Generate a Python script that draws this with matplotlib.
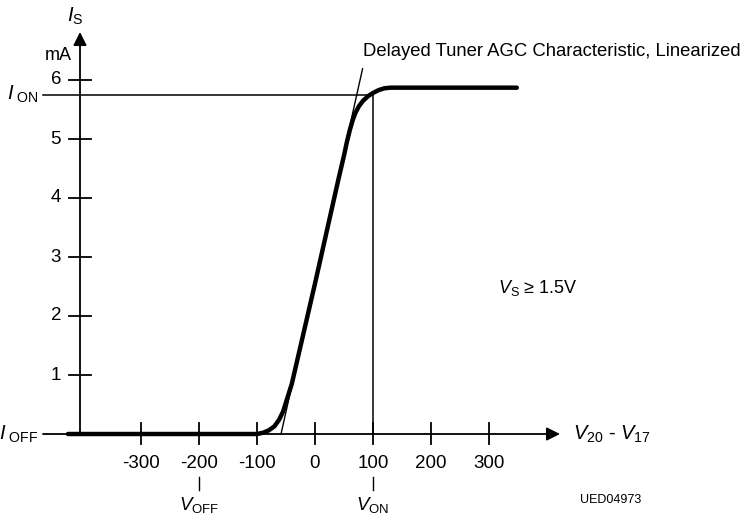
import matplotlib
matplotlib.use("Agg")
import matplotlib.pyplot as plt

FONT = ['Liberation Sans', 'DejaVu Sans']
plt.rcParams['font.family'] = FONT
plt.rcParams['mathtext.fontset'] = 'custom'
plt.rcParams['mathtext.rm'] = 'Liberation Sans'
plt.rcParams['mathtext.it'] = 'Liberation Sans:italic'

# ---- data ----
curve_v = [-426, -300, -200, -100, -90, -80, -70, -62, -55, -48, -40, 0, 40, 50,
           55, 60, 65, 70, 76, 83, 92, 100, 110, 120, 130, 348]
curve_i = [0, 0, 0, 0, 0.02, 0.06, 0.13, 0.24, 0.38, 0.6, 0.85, 2.55, 4.3, 4.72,
           4.95, 5.15, 5.32, 5.45, 5.56, 5.65, 5.73, 5.78, 5.83, 5.86, 5.87, 5.87]
lin_v = [-58.6, 82]
lin_i = [0, 6.19]
x_ticks = [-300, -200, -100, 0, 100, 200, 300]
x_tick_labels = ['-300', '-200', '-100', '0', '100', '200', '300']
y_ticks = [1, 2, 3, 4, 5, 6]
y_tick_labels = ['1', '2', '3', '4', '5', '6']
I_ON = 5.75
V_ON = 100
V_OFF = -200

# pixel mapping helpers: x_px = 315 + 0.58*x ; y_px = 434 - 59*y
def px2x(p):
    return (p - 315) / 0.58

def px2y(p):
    return (434 - p) / 59.0

fig = plt.figure(figsize=(7.45, 5.17), dpi=100)
ax = fig.add_axes([0, 0, 1, 1])
ax.set_xlim(px2x(0), px2x(745))
ax.set_ylim(px2y(517), px2y(0))
ax.axis('off')

lw_ax = 1.3
fs = 13.5

x_left = px2x(43)
y_axis_x = px2x(80)

# x axis with arrow
ax.annotate('', xy=(px2x(560), 0), xytext=(x_left, 0),
            arrowprops=dict(arrowstyle='-|>', lw=lw_ax, color='black',
                            mutation_scale=20, shrinkA=0, shrinkB=0))
# y axis with arrow
ax.annotate('', xy=(y_axis_x, px2y(32)), xytext=(y_axis_x, 0),
            arrowprops=dict(arrowstyle='-|>', lw=lw_ax, color='black',
                            mutation_scale=20, shrinkA=0, shrinkB=0))

# ticks
for xt, lab in zip(x_ticks, x_tick_labels):
    ax.plot([xt, xt], [px2y(423), px2y(444)], color='black', lw=lw_ax)
    ax.text(xt, px2y(463), lab, ha='center', va='center', fontsize=fs)
for yt, lab in zip(y_ticks, y_tick_labels):
    ax.plot([px2x(69), px2x(91)], [yt, yt], color='black', lw=lw_ax)
    ax.text(px2x(61), yt, lab, ha='right', va='center', fontsize=fs)

# I_ON line and V_ON line
ax.plot([x_left, V_ON], [I_ON, I_ON], color='black', lw=1.1)
ax.plot([V_ON, V_ON], [0, I_ON], color='black', lw=1.1)

# small markers under tick labels
for v in (V_OFF, V_ON):
    ax.plot([v, v], [px2y(477), px2y(490)], color='black', lw=1.0)
ax.text(V_OFF, px2y(505), r'$V_{\rm OFF}$', ha='center', va='center', fontsize=fs)
ax.text(V_ON, px2y(505), r'$V_{\rm ON}$', ha='center', va='center', fontsize=fs)

# linearized line
ax.plot(lin_v, lin_i, color='black', lw=1.0)
# characteristic
ax.plot(curve_v, curve_i, color='black', lw=3.2, solid_capstyle='round',
        solid_joinstyle='round')

# labels
ax.text(px2x(75), px2y(16), r'$I_{\rm S}$', ha='center', va='center', fontsize=fs + 1)
ax.text(px2x(58), px2y(55), 'mA', ha='center', va='center', fontsize=fs - 0.5)
ax.text(px2x(38), I_ON, r'$I_{\ \rm ON}$', ha='right', va='center', fontsize=fs + 1)
ax.text(px2x(38), 0, r'$I_{\ \rm OFF}$', ha='right', va='center', fontsize=fs + 1)
ax.text(px2x(573), 0, r'$V_{20}$ - $V_{17}$', ha='left', va='center', fontsize=fs + 1)
ax.text(px2x(498), px2y(288), r'$V_{\rm S}$ ≥ 1.5V', ha='left', va='center', fontsize=fs - 0.5)
ax.text(px2x(363), px2y(52), 'Delayed Tuner AGC Characteristic, Linearized',
        ha='left', va='center', fontsize=fs - 0.2)
ax.text(px2x(580), px2y(500), 'UED04973', ha='left', va='center', fontsize=9)

fig.savefig('out.png', dpi=100)
